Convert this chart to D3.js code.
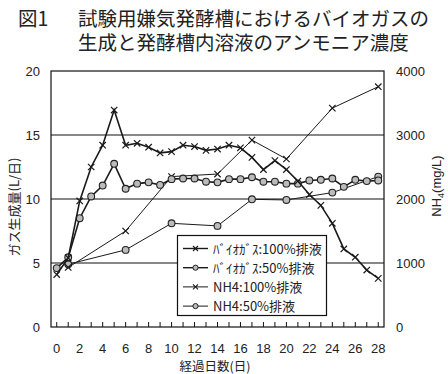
<!DOCTYPE html>
<html>
<head>
<meta charset="utf-8">
<script src="https://cdn.jsdelivr.net/npm/d3@7"></script>
<style>
body { margin: 0; background: #fff; }
svg text { font-family: "Liberation Sans", Arial, sans-serif; fill: #222; }
.jp { font-family: "Noto Sans CJK JP", sans-serif; }
</style>
</head>
<body>
<div id="chart"></div>
<script>
var days = d3.range(0, 29)
var gas100 = [4.1, 5.4, 9.85, 12.5, 14.2, 16.95, 14.2, 14.35, 14.05, 13.6, 13.7, 14.2, 14.1, 13.8, 13.9, 14.2, 14.0,
    13.25, 12.3, 13.0, 12.3, 11.4, 10.35, 9.5, 8.1, 6.1, 5.45, 4.45, 3.8]
var gas50 = [4.6, 5.45, 8.5, 10.2, 11.05, 12.75, 10.8, 11.2, 11.3, 11.1, 11.55, 11.6, 11.6, 11.35, 11.3, 11.55, 11.55,
    11.7, 11.35, 11.35, 11.2, 11.2, 11.45, 11.5, 11.6, 10.95, 11.5, 11.4, 11.45]
var nhDays = [1, 6, 10, 14, 17, 20, 24, 28]
var nh100 = [930, 1500, 2350, 2390, 2920, 2625, 3420, 3755]
var nh50 = [980, 1205, 1620, 1580, 1995, 1985, 2100, 2350]
var leftTicks = [0, 5, 10, 15, 20]
var rightTicks = [0, 1000, 2000, 3000, 4000]
var xLabels = d3.range(0, 29, 2)
var seriesNames = ['ﾊﾞｲｵｶﾞｽ:100%排液', 'ﾊﾞｲｵｶﾞｽ:50%排液', 'NH4:100%排液', 'NH4:50%排液']

var W = 448, H = 374
var box = { left: 51, right: 384, top: 71, bottom: 327 }

var svg = d3.select('#chart').append('svg')
    .attr('width', W).attr('height', H)

var x = d3.scaleLinear().domain([-0.5, 28.5]).range([box.left, box.right])
var yL = d3.scaleLinear().domain([0, 20]).range([box.bottom, box.top])
var yR = d3.scaleLinear().domain([0, 4000]).range([box.bottom, box.top])

// title (line height kept tight like the original)
var title = svg.append('g').style('font-size', '19.5px')
title.append('text').attr('class', 'jp').attr('x', 18).attr('y', 26).text('図1')
title.append('text').attr('class', 'jp').attr('x', 78).attr('y', 26).text('試験用嫌気発酵槽におけるバイオガスの')
title.append('text').attr('class', 'jp').attr('x', 78).attr('y', 50).text('生成と発酵槽内溶液のアンモニア濃度')

// gridlines
svg.append('g').selectAll('line').data([5, 10, 15]).enter().append('line')
    .attr('x1', box.left).attr('x2', box.right)
    .attr('y1', function(d) { return yL(d) }).attr('y2', function(d) { return yL(d) })
    .attr('stroke', '#111').attr('stroke-width', 1.2)

svg.append('rect')
    .attr('x', box.left).attr('y', box.top)
    .attr('width', box.right - box.left).attr('height', box.bottom - box.top)
    .attr('fill', 'none').attr('stroke', '#111').attr('stroke-width', 1.2)

// x ticks, pointing inward
svg.append('g').selectAll('line').data(days).enter().append('line')
    .attr('x1', function(d) { return x(d) }).attr('x2', function(d) { return x(d) })
    .attr('y1', box.bottom).attr('y2', box.bottom - 5)
    .attr('stroke', '#111')

svg.append('g').selectAll('text').data(xLabels).enter().append('text')
    .attr('x', function(d) { return x(d) }).attr('y', 353)
    .attr('text-anchor', 'middle').style('font-size', '13px')
    .text(function(d) { return d })

svg.append('g').selectAll('text').data(leftTicks).enter().append('text')
    .attr('x', 40).attr('y', function(d) { return yL(d) + 5 })
    .attr('text-anchor', 'end').style('font-size', '13px')
    .text(function(d) { return d })

svg.append('g').selectAll('text').data(rightTicks).enter().append('text')
    .attr('x', 396).attr('y', function(d) { return yR(d) + 5 })
    .attr('text-anchor', 'start').style('font-size', '13px')
    .text(function(d) { return d })

// axis titles
svg.append('text').attr('class', 'jp')
    .attr('transform', 'translate(19,207) rotate(-90)')
    .attr('text-anchor', 'middle').style('font-size', '13px')
    .text('ガス生成量(L/日)')

var rt = svg.append('text')
    .attr('transform', 'translate(441,186) rotate(-90)')
    .attr('text-anchor', 'middle').style('font-size', '13px')
rt.append('tspan').text('NH')
rt.append('tspan').attr('dy', 3).style('font-size', '9px').text('4')
rt.append('tspan').attr('dy', -3).text('(mg/L)')

svg.append('text').attr('class', 'jp')
    .attr('x', 215).attr('y', 371)
    .attr('text-anchor', 'middle').style('font-size', '12.5px')
    .text('経過日数(日)')

// series
function crossPath(cx, cy, s) {
    return 'M' + (cx - s) + ',' + (cy - s) + 'L' + (cx + s) + ',' + (cy + s) +
        'M' + (cx - s) + ',' + (cy + s) + 'L' + (cx + s) + ',' + (cy - s)
}

function drawSeries(xs, ys, yScale, marker, width) {
    var pts = xs.map(function(d, i) { return [x(d), yScale(ys[i])] })
    var g = svg.append('g')
    g.append('path')
        .attr('d', d3.line()(pts))
        .attr('fill', 'none').attr('stroke', '#1a1a1a').attr('stroke-width', width)
    if (marker == 'x') {
        g.selectAll('path.m').data(pts).enter().append('path')
            .attr('class', 'm')
            .attr('d', function(p) { return crossPath(p[0], p[1], 3.2) })
            .attr('stroke', '#1a1a1a').attr('stroke-width', 1.2)
    } else {
        g.selectAll('circle').data(pts).enter().append('circle')
            .attr('cx', function(p) { return p[0] }).attr('cy', function(p) { return p[1] })
            .attr('r', 3.4)
            .attr('fill', '#bbb').attr('stroke', '#222').attr('stroke-width', 1.1)
    }
}

drawSeries(nhDays, nh50, yR, 'o', 1)
drawSeries(nhDays, nh100, yR, 'x', 1)
drawSeries(days, gas50, yL, 'o', 1.6)
drawSeries(days, gas100, yL, 'x', 1.6)

// legend
var lg = svg.append('g')
lg.append('rect')
    .attr('x', 177.5).attr('y', 235.5).attr('width', 149).attr('height', 80)
    .attr('fill', '#fff').attr('stroke', '#111').attr('stroke-width', 1.2)

var markers = ['x', 'o', 'x', 'o']
var widths = [1.4, 1.4, 1, 1]
seriesNames.forEach(function(name, i) {
    var ly = 248.5 + i * 19.2
    lg.append('line').attr('x1', 183).attr('x2', 208).attr('y1', ly).attr('y2', ly)
        .attr('stroke', '#1a1a1a').attr('stroke-width', widths[i])
    if (markers[i] == 'x') {
        lg.append('path').attr('d', crossPath(195.5, ly, 2.5))
            .attr('stroke', '#1a1a1a').attr('stroke-width', 1.1)
    } else {
        lg.append('circle').attr('cx', 195.5).attr('cy', ly).attr('r', 2.6)
            .attr('fill', '#bbb').attr('stroke', '#222')
    }
    lg.append('text').attr('class', 'jp')
        .attr('x', 213).attr('y', ly + 5)
        .style('font-size', '13px')
        .text(name)
})
</script>
</body>
</html>
